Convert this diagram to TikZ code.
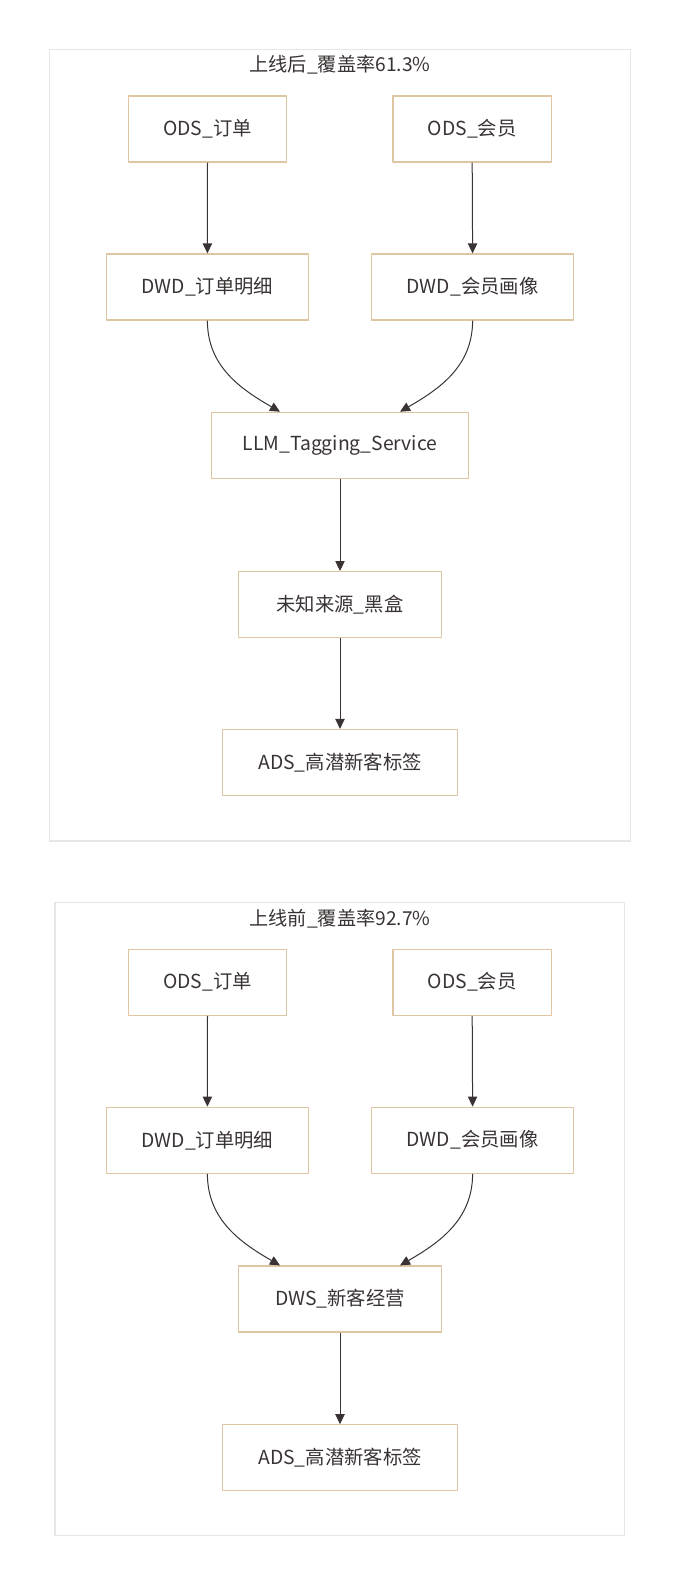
\documentclass[tikz,border=0pt]{standalone}
\usepackage{fontspec}
\setmainfont{Noto Sans CJK SC}
\usetikzlibrary{arrows.meta}
\definecolor{nodeline}{HTML}{DEC6A2}
\definecolor{grpline}{HTML}{E6E6E6}
\definecolor{inkdark}{HTML}{3A3333}

\begin{document}
\begin{tikzpicture}[x=0.75pt,y=-0.75pt,line join=round,
    tblnode/.style={draw=nodeline,line width=0.9pt,fill=white,minimum height=49.5pt,inner sep=0pt,text=inkdark,font=\fontsize{14.5}{17}\selectfont},
    grpframe/.style={draw=grpline,line width=1.1pt,fill=white},
    grptitle/.style={text=inkdark,font=\fontsize{14.4}{17}\selectfont},
    flow/.style={draw=inkdark,line width=0.75pt,-{Triangle[length=7.5pt,width=7pt]}}]
    \def\gap{853.2}
    \useasboundingbox[fill=white] (0,0) rectangle (682,1586);
    % frames
    \draw[grpframe] (49.5,49.5) rectangle (630.5,841);
    \draw[grpframe] (55,902.7) rectangle (624.5,1535.5);
    \node[grptitle] (atitle) at (340,65) {上线后\_覆盖率61.3\%};
    \node[grptitle] (btitle) at (340,65+\gap) {上线前\_覆盖率92.7\%};

    % rows both panels share
    \foreach \p/\dy in {a/0,b/\gap} {
        \node[tblnode,minimum width=118.8pt] (\p odsord) at (207.5,129+\dy) {ODS\_订单};
        \node[tblnode,minimum width=118.8pt] (\p odsmem) at (472.2,129+\dy) {ODS\_会员};
        \node[tblnode,minimum width=151.8pt] (\p dwdord) at (207.4,287+\dy) {DWD\_订单明细};
        \node[tblnode,minimum width=151.8pt] (\p dwdmem) at (472.6,287+\dy) {DWD\_会员画像};
        \draw[flow] (\p odsord.south) -- (\p dwdord.north);
        \draw[flow] (\p odsmem.south) -- (\p dwdmem.north);
    }

    % after launch
    \node[tblnode,minimum width=192.5pt] (allm) at (340,445.3) {LLM\_Tagging\_Service};
    \node[tblnode,minimum width=151.8pt] (ablack) at (340,604.6) {未知来源\_黑盒};
    \node[tblnode,minimum width=176.1pt] (aads) at (340,762.5) {ADS\_高潜新客标签};
    \draw[flow] (adwdord.south) to[out=-90,in=150] ([xshift=-45pt]allm.north);
    \draw[flow] (adwdmem.south) to[out=-90,in=30] ([xshift=45pt]allm.north);
    \draw[flow] (allm) -- (ablack);
    \draw[flow] (ablack) -- (aads);

    % before launch
    \node[tblnode,minimum width=151.8pt] (bdws) at (340,445.8+\gap) {DWS\_新客经营};
    \node[tblnode,minimum width=176.1pt] (bads) at (340,604.6+\gap) {ADS\_高潜新客标签};
    \draw[flow] (bdwdord.south) to[out=-90,in=150] ([xshift=-45pt]bdws.north);
    \draw[flow] (bdwdmem.south) to[out=-90,in=30] ([xshift=45pt]bdws.north);
    \draw[flow] (bdws) -- (bads);
\end{tikzpicture}
\end{document}
